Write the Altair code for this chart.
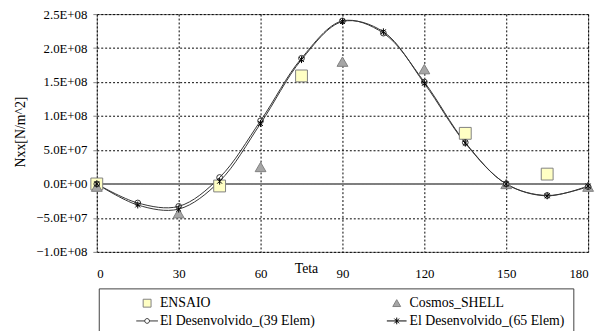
import altair as alt
import pandas as pd

teta = [0, 15, 30, 45, 60, 75, 90, 105, 120, 135, 150, 165, 180]

ensaio_teta = [0, 45, 75, 135, 165]
ensaio_val = [0.0, -3.0e6, 1.59e8, 7.45e7, 1.45e7]

cosmos_teta = [0, 30, 60, 90, 120, 150, 180]
cosmos_val = [-4.0e6, -4.3e7, 2.5e7, 1.80e8, 1.69e8, 0.0, -4.0e6]

el39_val = [0.0, -2.8e7, -3.3e7, 9.5e6, 9.3e7, 1.85e8, 2.40e8, 2.22e8, 1.50e8, 6.1e7, 0.0, -1.7e7, -4.0e6]
el65_val = [0.0, -3.1e7, -3.7e7, 4.0e6, 8.9e7, 1.83e8, 2.39e8, 2.24e8, 1.48e8, 6.0e7, 0.0, -1.75e7, -3.0e6]

series = ["ENSAIO", "Cosmos_SHELL", "El Desenvolvido_(39 Elem)", "El Desenvolvido_(65 Elem)"]
legend_order = [series[0], series[2], series[1], series[3]]
y_ticks = [-1.0e8, -5.0e7, 0.0, 5.0e7, 1.0e8, 1.5e8, 2.0e8, 2.5e8]
x_ticks = [0, 30, 60, 90, 120, 150, 180]

rows = []
for t, v in zip(ensaio_teta, ensaio_val):
    rows.append({"series": series[0], "teta": t, "val": v})
for t, v in zip(cosmos_teta, cosmos_val):
    rows.append({"series": series[1], "teta": t, "val": v})
for t, v in zip(teta, el39_val):
    rows.append({"series": series[2], "teta": t, "val": v})
for t, v in zip(teta, el65_val):
    rows.append({"series": series[3], "teta": t, "val": v})
df = pd.DataFrame(rows)

FONT = "Liberation Serif"

x_enc = alt.X("teta:Q", scale=alt.Scale(domain=[0, 180], nice=False),
              axis=alt.Axis(values=x_ticks, tickCount=20, title="Teta", titleFont=FONT, titleFontSize=14,
                            titleFontWeight="normal", titleColor="black",
                            titleX=212, titleY=17, titleBaseline="middle", titleAlign="center",
                            labelFont=FONT, labelFontSize=13, labelColor="black",
                            labelPadding=16, tickSize=0, domain=False, labelOverlap=False,
                            grid=True, gridColor="#000000", gridDash=[2, 2], gridWidth=1))
y_enc = alt.Y("val:Q", scale=alt.Scale(domain=[-1.0e8, 2.5e8], nice=False, zero=False),
              axis=alt.Axis(values=y_ticks, tickCount=20, title="Nxx[N/m^2]", titleFont=FONT, titleFontSize=14,
                            titleFontWeight="normal", titleColor="black",
                            titleX=-77, titleY=119, titleAlign="center", titleBaseline="middle",
                            titleAngle=-90,
                            labelFont=FONT, labelFontSize=13, labelColor="black",
                            labelExpr="replace(format(datum.value, '.1e'), 'e+', 'E+0')",
                            labelPadding=6, tickSize=4, tickColor="#808080", domain=False,
                            labelOverlap=False,
                            grid=True, gridColor="#000000", gridDash=[2, 2], gridWidth=1))

base = alt.Chart(df)

zero_rule = alt.Chart(df).mark_rule(color="#808080", strokeWidth=1).encode(y=alt.datum(0))

lines = base.transform_filter(
    alt.FieldOneOfPredicate(field="series", oneOf=series[2:])
).mark_line(interpolate="catmull-rom", color="#333333", strokeWidth=1).encode(
    x=x_enc, y=y_enc, detail="series:N")

ens = base.transform_filter(alt.datum.series == series[0]).mark_point(
    shape="square", size=144, filled=True, fill="#FFFFC4", stroke="#808080", strokeWidth=1, opacity=1
).encode(x=x_enc, y=y_enc)

cos = base.transform_filter(alt.datum.series == series[1]).mark_point(
    shape="triangle-up", size=120, filled=True, fill="#A6A6A6", stroke="#808080", strokeWidth=1, opacity=1
).encode(x=x_enc, y=y_enc)

c39 = base.transform_filter(alt.datum.series == series[2]).mark_point(
    shape="circle", size=34, filled=False, stroke="#333333", strokeWidth=1, opacity=1
).encode(x=x_enc, y=y_enc)

star = "M-0.7,-0.7L0.7,0.7M-0.7,0.7L0.7,-0.7M0,-1L0,1"
s65 = base.transform_filter(alt.datum.series == series[3]).mark_point(
    shape=star, size=49, filled=False, stroke="#000000", strokeWidth=1, opacity=1
).encode(x=x_enc, y=y_enc)

shape_of = {
    series[0]: "M-1,-1L1,-1L1,1L-1,1Z",
    series[1]: "M0,-0.9L1,0.85L-1,0.85Z",
    series[2]: "M-2.75,0L-0.6,0M0.6,0L2.75,0M-0.6,0A0.6,0.6 0 1,0 0.6,0A0.6,0.6 0 1,0 -0.6,0",
    series[3]: "M-2.5,0L2.5,0M-0.6,-0.6L0.6,0.6M-0.6,0.6L0.6,-0.6M0,-0.85L0,0.85",
}
fill_of = {series[0]: "#FFFFC4", series[1]: "#A6A6A6", series[2]: "transparent", series[3]: "transparent"}
stroke_of = {series[0]: "#808080", series[1]: "#808080", series[2]: "#333333", series[3]: "#000000"}

pad_right = "\u00a0" * 16
legend = alt.Legend(title=None, orient="none", legendX=2, legendY=278, columns=2,
                    columnPadding=41, rowPadding=4, padding=8,
                    symbolSize=64, symbolOffset=34, labelOffset=6,
                    symbolStrokeWidth=1,
                    labelExpr=("(indexof(datum.label, 'Cosmos') >= 0 || indexof(datum.label, '65') >= 0)"
                               f" ? datum.label + '{pad_right}' : datum.label"),
                    labelFont=FONT, labelFontSize=14, labelColor="black", labelLimit=400,
                    strokeColor="#404040", fillColor="white")

leg_layer = base.transform_filter("datum.teta < -1000").mark_point(
    size=64, filled=True, opacity=1, strokeWidth=1
).encode(
    x=x_enc, y=y_enc,
    shape=alt.Shape("series:N", sort=legend_order,
                    scale=alt.Scale(domain=legend_order, range=[shape_of[s] for s in legend_order]),
                    legend=legend),
    fill=alt.Fill("series:N", sort=legend_order,
                  scale=alt.Scale(domain=legend_order, range=[fill_of[s] for s in legend_order]),
                  legend=legend),
    stroke=alt.Stroke("series:N", sort=legend_order,
                      scale=alt.Scale(domain=legend_order, range=[stroke_of[s] for s in legend_order]),
                      legend=legend),
)

chart = alt.layer(zero_rule, lines, ens, cos, c39, s65, leg_layer).properties(
    width=498, height=241,
    autosize=alt.AutoSizeParams(type="none"),
    padding={"left": 90, "top": 4, "right": 9, "bottom": 78},
    background="white",
).configure_view(stroke="#808080", strokeWidth=1)

chart.save("out.html", embed_options={"renderer": "svg", "actions": False})
